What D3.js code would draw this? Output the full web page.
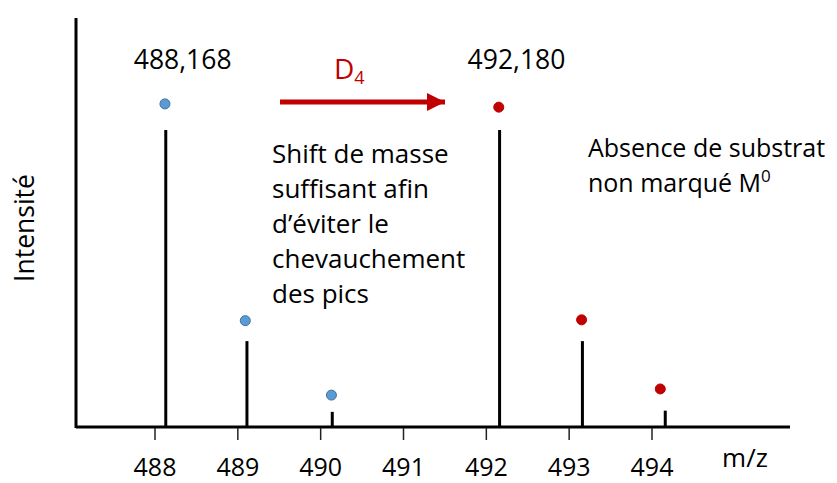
<!DOCTYPE html>
<html>
<head>
<meta charset="utf-8">
<script src="https://cdn.jsdelivr.net/npm/d3@7"></script>
<style>
  html, body { margin: 0; padding: 0; background: #fff; }
  svg { display: block; font-family: "Open Sans", sans-serif; }
</style>
</head>
<body>
<div id="chart"></div>
<script>
// m/z tick labels
const ticks = [488, 489, 490, 491, 492, 493, 494];

// unlabelled substrate (blue) and D4-labelled substrate (red)
const blueMz = [488.13, 489.11, 490.14];
const blueIntensity = [72.6, 21, 3.7];
const blueDotMz = [488.12, 489.09, 490.13];
const blueDotIntensity = [79, 26, 7.8];

const redMz = [492.16, 493.16, 494.16];
const redIntensity = [72.6, 21, 4];
const redDotMz = [492.15, 493.15, 494.1];
const redDotIntensity = [78.2, 26.2, 9.3];

const peakLabels = ["488,168", "492,180"];

const width = 837;
const height = 483;

const x = d3.scaleLinear().domain([488, 494]).range([155, 652]);
const y = d3.scaleLinear().domain([0, 100]).range([427, 18]);

const svg = d3.select("#chart")
  .append("svg")
  .attr("width", width)
  .attr("height", height);

// axes lines
svg.append("line")
  .attr("x1", 76).attr("x2", 76)
  .attr("y1", 18).attr("y2", 428)
  .attr("stroke", "#000").attr("stroke-width", 3);

svg.append("line")
  .attr("x1", 76).attr("x2", 790)
  .attr("y1", 427).attr("y2", 427)
  .attr("stroke", "#000").attr("stroke-width", 3);

// ticks + labels
const xAxis = svg.append("g");
xAxis.selectAll("line")
  .data(ticks)
  .join("line")
  .attr("x1", d => x(d)).attr("x2", d => x(d))
  .attr("y1", 428).attr("y2", 440)
  .attr("stroke", "#222").attr("stroke-width", 1.5);

xAxis.append("g")
  .attr("text-anchor", "middle")
  .attr("font-size", 25)
  .selectAll("text")
  .data(ticks)
  .join("text")
  .attr("x", d => x(d))
  .attr("y", 476)
  .text(d => d);

svg.append("text")
  .attr("x", 745).attr("y", 467)
  .attr("text-anchor", "middle")
  .attr("font-size", 26)
  .text("m/z");

svg.append("text")
  .attr("transform", "translate(34,228) rotate(-90)")
  .attr("text-anchor", "middle")
  .attr("font-size", 26.5)
  .text("Intensité");

// peaks
function drawSeries(mz, inten, dotMz, dotInt, fill, stroke) {
  svg.append("g")
    .selectAll("line")
    .data(mz)
    .join("line")
    .attr("x1", d => x(d)).attr("x2", d => x(d))
    .attr("y1", y(0)).attr("y2", (d, i) => y(inten[i]))
    .attr("stroke", "#000").attr("stroke-width", 3);

  svg.append("g")
    .selectAll("circle")
    .data(dotMz)
    .join("circle")
    .attr("cx", d => x(d))
    .attr("cy", (d, i) => y(dotInt[i]))
    .attr("r", 5)
    .attr("fill", fill)
    .attr("stroke", stroke)
    .attr("stroke-width", 1);
}
drawSeries(blueMz, blueIntensity, blueDotMz, blueDotIntensity, "#5b9bd5", "#41719c");
drawSeries(redMz, redIntensity, redDotMz, redDotIntensity, "#c00000", "#c00000");

// peak mass labels
svg.append("g")
  .attr("font-size", 26.5)
  .selectAll("text")
  .data([blueMz[0], redMz[0]])
  .join("text")
  .attr("x", d => x(d) - 32)
  .attr("y", 69)
  .text((d, i) => peakLabels[i]);

// D4 arrow
svg.append("defs").append("marker")
  .attr("id", "head")
  .attr("viewBox", "0 0 10 10")
  .attr("refX", 10).attr("refY", 5)
  .attr("markerWidth", 3.6).attr("markerHeight", 3.6)
  .attr("markerUnits", "strokeWidth")
  .attr("orient", "auto")
  .append("path")
  .attr("d", "M0,0 L10,5 L0,10 Z")
  .attr("fill", "#c00000");

svg.append("line")
  .attr("x1", 280).attr("x2", 445)
  .attr("y1", 102).attr("y2", 102)
  .attr("stroke", "#c00000").attr("stroke-width", 5)
  .attr("marker-end", "url(#head)");

const d4 = svg.append("text")
  .attr("x", 334).attr("y", 79)
  .attr("font-size", 28)
  .attr("fill", "#c00000");
d4.append("tspan").text("D");
d4.append("tspan").attr("font-size", 18).attr("dy", 5).text("4");

// annotations
const leftLines = ["Shift de masse", "suffisant afin", "d\u2019éviter le", "chevauchement", "des pics"];
svg.append("g")
  .attr("font-size", 26)
  .selectAll("text")
  .data(leftLines)
  .join("text")
  .attr("x", 272)
  .attr("y", (d, i) => 163 + i * 35)
  .text(d => d);

svg.append("text")
  .attr("x", 588).attr("y", 157)
  .attr("font-size", 25)
  .text("Absence de substrat");

const m0 = svg.append("text")
  .attr("x", 588).attr("y", 192)
  .attr("font-size", 25);
m0.append("tspan").text("non marqué M");
m0.append("tspan").attr("font-size", 17).attr("dy", -10).text("0");
</script>
</body>
</html>
